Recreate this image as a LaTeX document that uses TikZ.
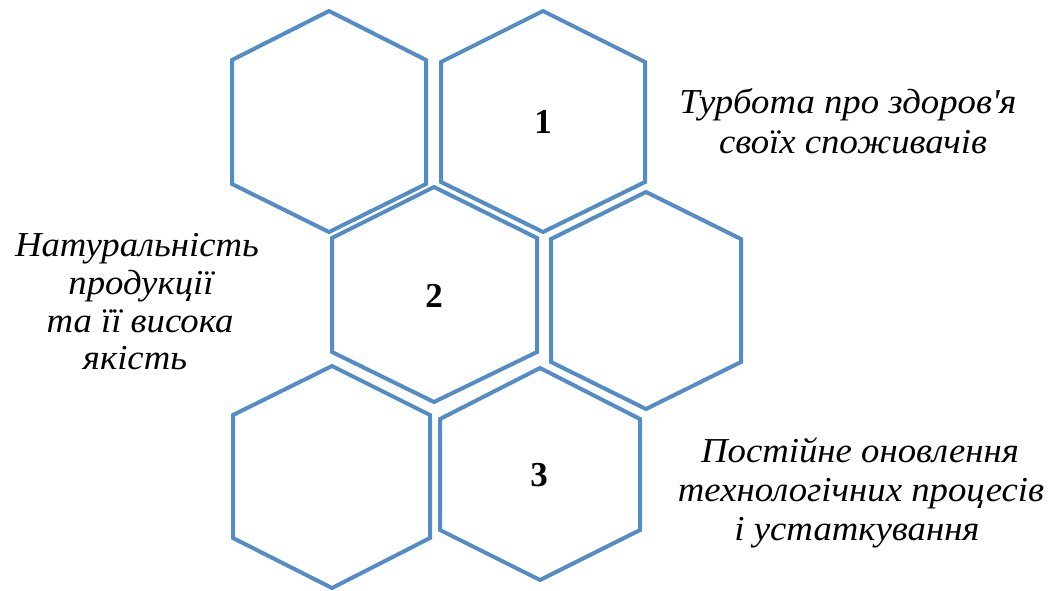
\documentclass[tikz,border=0pt]{standalone}
\usepackage{fontspec}
\setmainfont{Liberation Serif}
\newfontfamily\lblfont{Liberation Serif}[FakeStretch=1.05]
\begin{document}
\begin{tikzpicture}[x=1pt,y=-1pt,
  hexline/.style={draw=hexblue,line width=4pt,line join=miter},
  lbl/.style={font=\lblfont\fontsize{35}{38}\selectfont\itshape,inner sep=0pt,anchor=base},
  num/.style={font=\fontsize{35}{38}\selectfont\bfseries,inner sep=0pt,anchor=base}]
\definecolor{hexblue}{RGB}{84,141,198}
\useasboundingbox (0,0) rectangle (1051,590);
% hexagons
\draw[hexline] (329,11) -- (426,60) -- (426,184) -- (329,232) -- (232,184) -- (232,60) -- cycle;
\draw[hexline] (543,11) -- (645,62) -- (645,182) -- (543,232) -- (441,182) -- (441,62) -- cycle;
\draw[hexline] (434,187) -- (537,238) -- (537,352) -- (434,402) -- (332,352) -- (332,238) -- cycle;
\draw[hexline] (646,192) -- (741,239) -- (741,362) -- (646,409) -- (551,362) -- (551,239) -- cycle;
\draw[hexline] (332,366) -- (430,415) -- (430,538) -- (332,588) -- (233,538) -- (233,415) -- cycle;
\draw[hexline] (540,368) -- (640,419) -- (640,530) -- (540,580) -- (440,530) -- (440,419) -- cycle;
% numbers
\node[num] (n1) at (543,133) {1};
\node[num] (n2) at (434,307) {2};
\node[num] (n3) at (539,486) {3};
% texts
\node[lbl] (ta1) at (848,113) {Турбота про здоров\textquotesingle я};
\node[lbl] (ta2) at (853,153) {своїх споживачів};
\node[lbl] (tb1) at (137,256) {Натуральність};
\node[lbl] (tb2) at (141,294) {продукції};
\node[lbl] (tb3) at (140,332) {та її висока};
\node[lbl] (tb4) at (135,369) {якість};
\node[lbl] (tc1) at (860,462) {Постійне оновлення};
\node[lbl] (tc2) at (861,501) {технологічних процесів};
\node[lbl] (tc3) at (857,540) {і устаткування};
\end{tikzpicture}
\end{document}
